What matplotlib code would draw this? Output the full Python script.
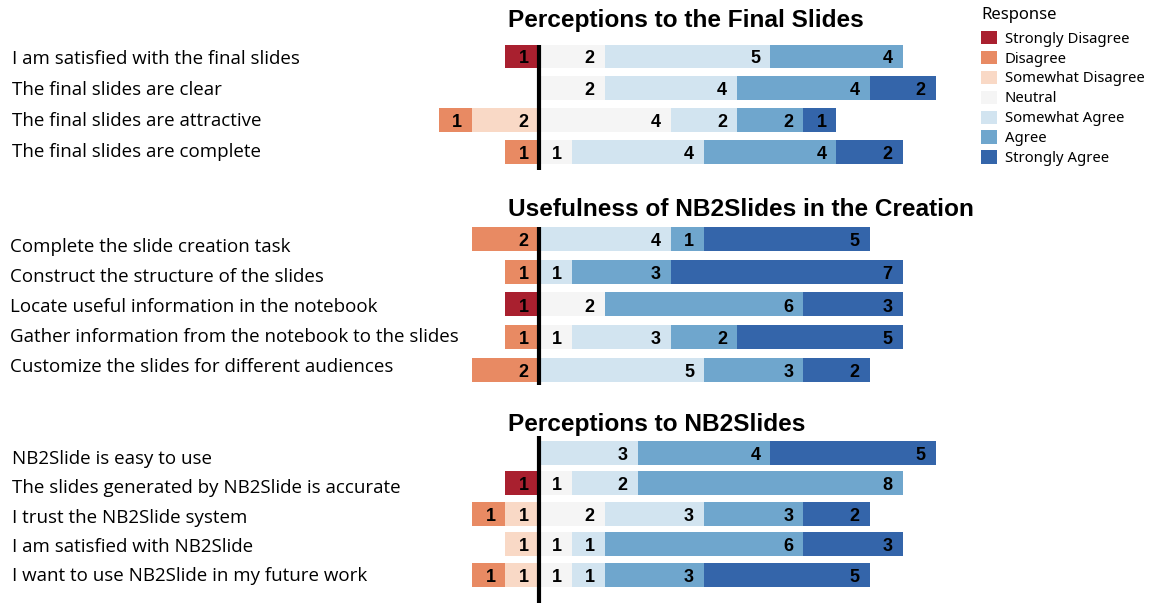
import matplotlib
matplotlib.use("Agg")
import matplotlib.pyplot as plt
from matplotlib.patches import Patch

categories = ['Strongly Disagree', 'Disagree', 'Somewhat Disagree', 'Neutral',
              'Somewhat Agree', 'Agree', 'Strongly Agree']
colors = ['#a9202f', '#e88a63', '#f9d9c6', '#f5f5f5', '#d2e4f0', '#6fa6cd', '#3465aa']

# section 1
final_title = 'Perceptions to the Final Slides'
final_items = ['I am satisfied with the final slides',
               'The final slides are clear',
               'The final slides are attractive',
               'The final slides are complete']
final_sd = [1, 0, 0, 0]
final_d = [0, 0, 1, 1]
final_swd = [0, 0, 2, 0]
final_n = [2, 2, 4, 1]
final_swa = [5, 4, 2, 4]
final_a = [4, 4, 2, 4]
final_sa = [0, 2, 1, 2]

# section 2
use_title = 'Usefulness of NB2Slides in the Creation'
use_items = ['Complete the slide creation task',
             'Construct the structure of the slides',
             'Locate useful information in the notebook',
             'Gather information from the notebook to the slides',
             'Customize the slides for different audiences']
use_sd = [0, 0, 1, 0, 0]
use_d = [2, 1, 0, 1, 2]
use_swd = [0, 0, 0, 0, 0]
use_n = [0, 0, 2, 1, 0]
use_swa = [4, 1, 0, 3, 5]
use_a = [1, 3, 6, 2, 3]
use_sa = [5, 7, 3, 5, 2]

# section 3
tool_title = 'Perceptions to NB2Slides'
tool_items = ['NB2Slide is easy to use',
              'The slides generated by NB2Slide is accurate',
              'I trust the NB2Slide system',
              'I am satisfied with NB2Slide',
              'I want to use NB2Slide in my future work']
tool_sd = [0, 1, 0, 0, 0]
tool_d = [0, 0, 1, 0, 1]
tool_swd = [0, 0, 1, 1, 1]
tool_n = [0, 1, 2, 1, 1]
tool_swa = [3, 2, 3, 1, 1]
tool_a = [4, 8, 3, 6, 3]
tool_sa = [5, 0, 2, 3, 5]

W, H = 1150, 603
fig = plt.figure(figsize=(W / 100, H / 100), dpi=100)

ZERO, UNIT = 538.5, 33.1      # pixel of zero, pixels per response
LEFT, RIGHT = 430, 955

sections = [
    # title, items, counts, top px, bottom px, first row px, row step px,
    # title baseline px, label x px, first label px, label step px
    (final_title, final_items, [final_sd, final_d, final_swd, final_n, final_swa, final_a, final_sa],
     45, 170, 55.8, 32.0, 26.7, 12, 59, 31.0),
    (use_title, use_items, [use_sd, use_d, use_swd, use_n, use_swa, use_a, use_sa],
     227, 384.5, 239.0, 32.7, 215.7, 10, 246.5, 30.2),
    (tool_title, tool_items, [tool_sd, tool_d, tool_swd, tool_n, tool_swa, tool_a, tool_sa],
     436, 603, 452.7, 30.5, 430.7, 12, 459, 29.3),
]

for title, items, counts, top, bottom, c0, step, tb, lx, l0, lstep in sections:
    ax = fig.add_axes([LEFT / W, 1 - bottom / H, (RIGHT - LEFT) / W, (bottom - top) / H])
    n = len(items)
    rows = list(range(n))
    sd, d, swd, neu, swa, a, sa = counts
    # negative side, stacked outwards from zero
    lefts = [
        [-(swd[i] + d[i] + sd[i]) for i in rows],
        [-(swd[i] + d[i]) for i in rows],
        [-swd[i] for i in rows],
        [0] * n,
        [neu[i] for i in rows],
        [neu[i] + swa[i] for i in rows],
        [neu[i] + swa[i] + a[i] for i in rows],
    ]
    h = 24 / step
    for k in range(7):
        vals = counts[k]
        ax.barh(rows, vals, left=lefts[k], height=h, color=colors[k], edgecolor='none')
        for i in rows:
            if vals[i] > 0:
                ax.text(lefts[k][i] + vals[i] - 0.3, i + 0.08, str(vals[i]),
                        ha='right', va='center', fontsize=13, fontweight='bold',
                        family='Liberation Sans', color='black')
    ax.axvline(0, color='black', lw=3)
    ax.set_xlim((LEFT - ZERO) / UNIT, (RIGHT - ZERO) / UNIT)
    ax.set_ylim((bottom - c0) / step, (top - c0) / step)
    ax.axis('off')

    for i, item in enumerate(items):
        fig.text(lx / W, 1 - (l0 + i * lstep) / H, item, ha='left', va='center',
                 fontsize=13.5, family='Open Sans', color='black')

    fig.text(508 / W, 1 - tb / H, title, ha='left', va='baseline',
             fontsize=17.6, fontweight='bold', family='Liberation Sans')

fig.text(981 / W, 1 - 19 / H, 'Response', ha='left', va='baseline',
         fontsize=12, family='Noto Sans')
handles = [Patch(facecolor=colors[k], edgecolor='none', label=categories[k]) for k in range(7)]
leg = fig.legend(handles=handles, loc='upper left',
                 bbox_to_anchor=(972 / W, 1 - 22 / H), frameon=False,
                 prop={'family': 'Noto Sans', 'size': 10.7},
                 handlelength=1.05, handleheight=1.0, handletextpad=0.55,
                 labelspacing=0.28, borderaxespad=0.2, borderpad=0.4)

fig.savefig('out.png', dpi=100)
